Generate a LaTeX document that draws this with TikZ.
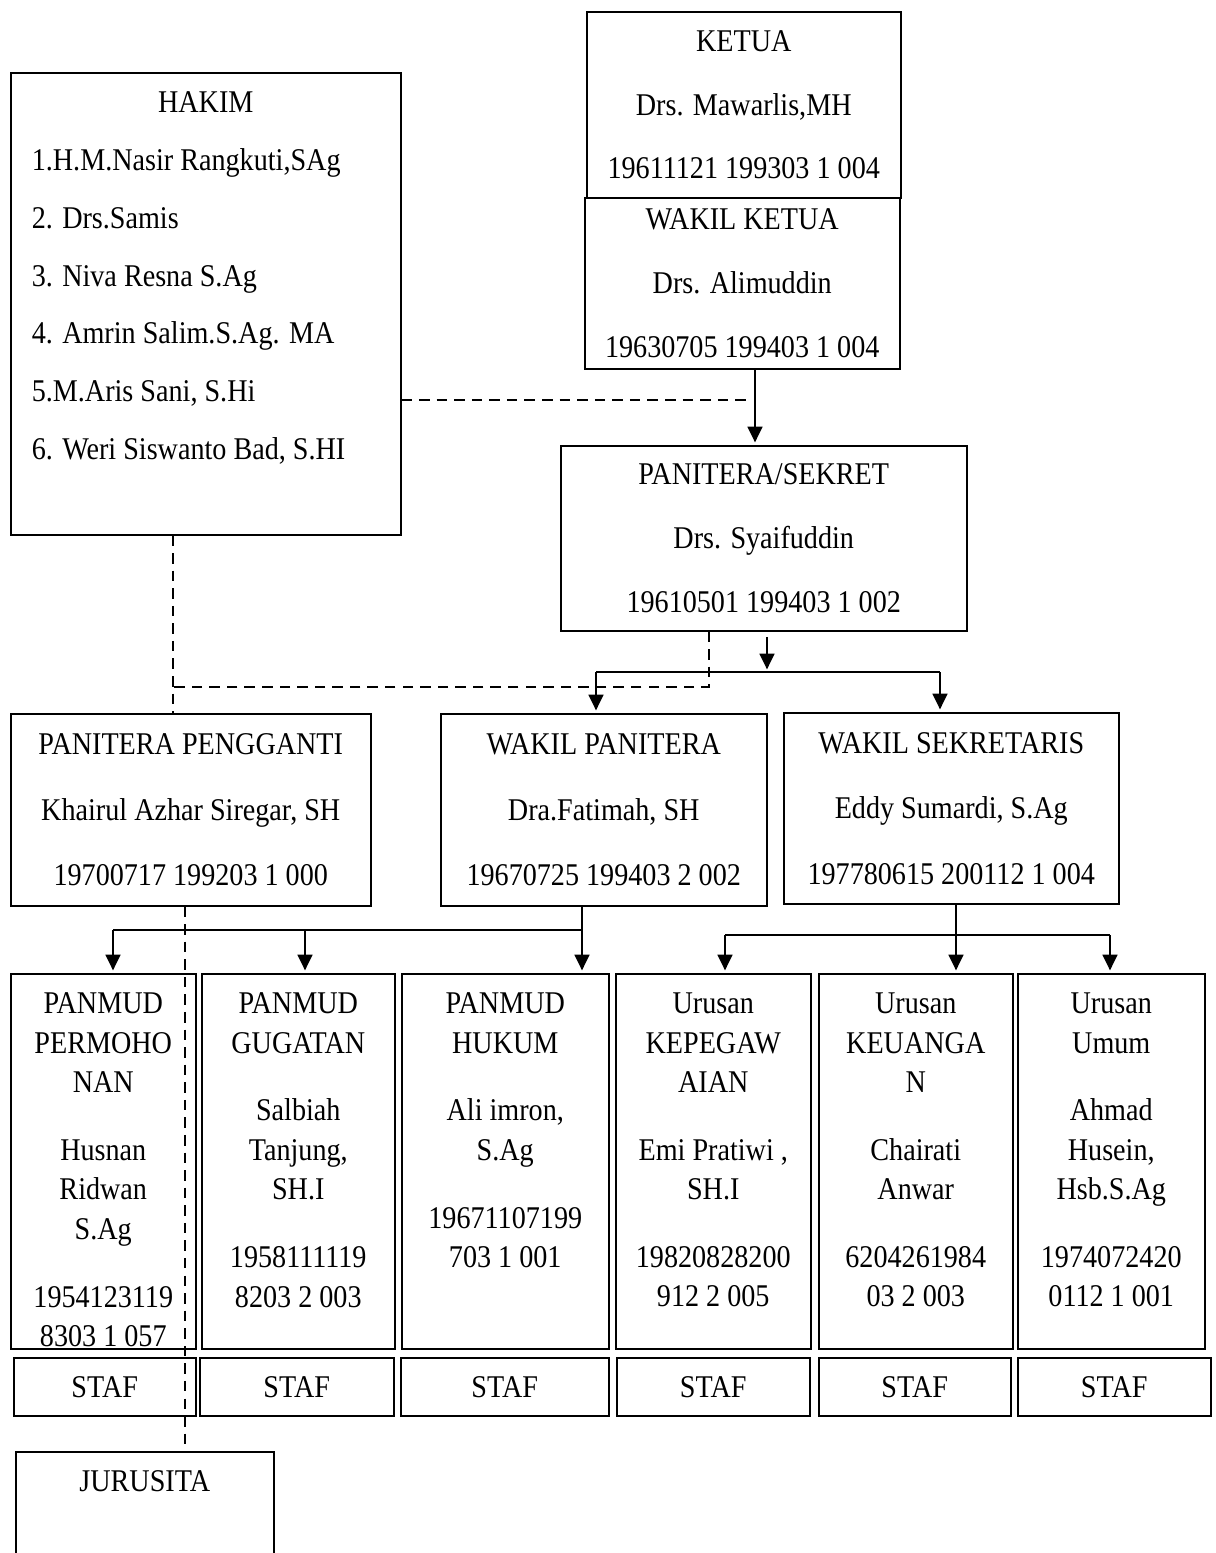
\documentclass[tikz,border=0pt]{standalone}
\usepackage{fontspec}
\setmainfont{Liberation Serif}[FakeStretch=0.89]
\usepackage{tikz}
\usetikzlibrary{arrows.meta, positioning, calc}
\newcommand{\toptext}[3]{\parbox[c][#2][t]{#1}{\vspace*{0.38cm}#3}}

\begin{document}
\begin{tikzpicture}[
    x=0.02cm, y=-0.02cm,
    box/.style={draw, line width=0.9pt, anchor=north west, inner sep=0pt, align=center,
                font=\fontsize{18}{36.3}\selectfont},
    unit/.style={draw, line width=0.9pt, anchor=north west, inner sep=0pt, minimum height=7.5cm,
                 font=\fontsize{18}{22.5}\selectfont},
    staf/.style={draw, line width=0.9pt, anchor=north west, inner sep=0pt, minimum height=1.16cm,
                 font=\fontsize{18}{21}\selectfont},
    link/.style={line width=1.1pt},
    arr/.style={line width=1.1pt, ->, shorten >=1.5pt},
    dashlink/.style={line width=1.1pt, dash pattern=on 6pt off 4pt},
    >={Triangle[width=8.5pt,length=9pt]}
]
\useasboundingbox (0,0) rectangle (1216,1553);
\clip (0,0) rectangle (1216,1553);

\node[box, minimum width=6.28cm, minimum height=3.72cm] (ketua) at (586,11)
    {KETUA\\ Drs. Mawarlis,MH\\ 19611121 199303 1 004};
\node[box, minimum width=6.3cm, minimum height=3.42cm] (wketua) at (584,197)
    {WAKIL KETUA\\ Drs. Alimuddin\\ 19630705 199403 1 004};

\node[box, align=none, minimum width=7.8cm, minimum height=9.24cm,
      font=\fontsize{18}{32.9}\selectfont] (hakim) at (10,72)
    {\toptext{6.96cm}{9.24cm}{\centerline{HAKIM}
     1.H.M.Nasir Rangkuti,SAg\\
     2. Drs.Samis\\
     3. Niva Resna S.Ag\\
     4. Amrin Salim.S.Ag. MA\\
     5.M.Aris Sani, S.Hi\\
     6. Weri Siswanto Bad, S.HI}};

\node[box, minimum width=8.12cm, minimum height=3.7cm] (panitera) at (560,445)
    {PANITERA/SEKRET\\ Drs. Syaifuddin\\ 19610501 199403 1 002};

\node[box, minimum width=7.2cm, minimum height=3.84cm,
      font=\fontsize{18}{37.3}\selectfont] (pengganti) at (10,713)
    {PANITERA PENGGANTI\\ Khairul Azhar Siregar, SH\\ 19700717 199203 1 000};
\node[box, minimum width=6.52cm, minimum height=3.84cm,
      font=\fontsize{18}{37.3}\selectfont] (wpanitera) at (440,713)
    {WAKIL PANITERA\\ Dra.Fatimah, SH\\ 19670725 199403 2 002};
\node[box, minimum width=6.7cm, minimum height=3.82cm,
      font=\fontsize{18}{37.3}\selectfont] (wsekretaris) at (783,712)
    {WAKIL SEKRETARIS\\ Eddy Sumardi, S.Ag\\ 197780615 200112 1 004};

\node[unit, minimum width=3.7cm] (permohonan) at (10,973)
    {\toptext{3.6cm}{7.5cm}{\centering PANMUD\\ PERMOHO\\ NAN\\[16pt]
     Husnan\\ Ridwan\\ S.Ag\\[16pt] 1954123119\\ 8303 1 057}};
\node[unit, minimum width=3.86cm] (gugatan) at (201,973)
    {\toptext{3.76cm}{7.5cm}{\centering PANMUD\\ GUGATAN\\[16pt]
     Salbiah\\ Tanjung,\\ SH.I\\[16pt] 1958111119\\ 8203 2 003}};
\node[unit, minimum width=4.14cm] (hukum) at (401,973)
    {\toptext{4.04cm}{7.5cm}{\centering PANMUD\\ HUKUM\\[16pt]
     Ali imron,\\ S.Ag\\[16pt] 19671107199\\ 703 1 001}};
\node[unit, minimum width=3.9cm] (pegawai) at (615,973)
    {\toptext{3.8cm}{7.5cm}{\centering Urusan\\ KEPEGAW\\ AIAN\\[16pt]
     Emi Pratiwi ,\\ SH.I\\[16pt] 19820828200\\ 912 2 005}};
\node[unit, minimum width=3.88cm] (keuangan) at (818,973)
    {\toptext{3.78cm}{7.5cm}{\centering Urusan\\ KEUANGA\\ N\\[16pt]
     Chairati\\ Anwar\\[16pt] 6204261984\\ 03 2 003}};
\node[unit, minimum width=3.74cm] (umum) at (1017,973)
    {\toptext{3.64cm}{7.5cm}{\centering Urusan\\ Umum\\[16pt]
     Ahmad\\ Husein,\\ Hsb.S.Ag\\[16pt] 1974072420\\ 0112 1 001}};

\node[staf, minimum width=3.64cm] (staf1) at (13,1357) {STAF};
\node[staf, minimum width=3.88cm] (staf2) at (199,1357) {STAF};
\node[staf, minimum width=4.16cm] (staf3) at (400,1357) {STAF};
\node[staf, minimum width=3.86cm] (staf4) at (616,1357) {STAF};
\node[staf, minimum width=3.84cm] (staf5) at (818,1357) {STAF};
\node[staf, minimum width=3.86cm] (staf6) at (1017,1357) {STAF};

\node[unit, minimum width=5.16cm, minimum height=2.6cm] (jurusita) at (15,1451)
    {\toptext{5cm}{2.6cm}{\centering JURUSITA}};

\coordinate (kjoin) at (755,400);
\coordinate (kdash) at (751,400);
\coordinate (pbus) at (767,672);
\coordinate (pl) at (596,672);
\coordinate (pr) at (940,672);
\coordinate (dcol) at (709,687);
\coordinate (djoin) at (173,687);
\coordinate (jcol) at (185,905);
\coordinate (hl) at (113,930);
\coordinate (hm) at (305,930);
\coordinate (hr) at (582,930);
\coordinate (ul) at (725,935);
\coordinate (um) at (956,935);
\coordinate (ur) at (1110,935);

\draw[dashlink] (hakim.east |- kjoin) -- (kdash);
\draw[arr] (wketua.south -| kjoin) -- (panitera.north -| kjoin);

\draw[arr, shorten <=3pt] (panitera.south -| pbus) -- (pbus);
\draw[link] (pl) -- (pr);
\draw[arr] (pl) -- (wpanitera.north -| pl);
\draw[arr] (pr) -- (wsekretaris.north -| pr);

\draw[dashlink] (panitera.south -| dcol) -- (dcol) -- (djoin);
\draw[dashlink] (hakim.south -| djoin) -- (pengganti.north -| djoin);
\draw[dashlink] (pengganti.south -| jcol) -- (jurusita.north -| jcol);

\draw[arr] (wpanitera.south -| hr) -- (hukum.north -| hr);
\draw[link] (hr) -- (hl);
\draw[arr] (hl) -- (permohonan.north -| hl);
\draw[arr] (hm) -- (gugatan.north -| hm);

\draw[arr] (wsekretaris.south -| um) -- (keuangan.north -| um);
\draw[link] (ul) -- (ur);
\draw[arr] (ul) -- (pegawai.north -| ul);
\draw[arr] (ur) -- (umum.north -| ur);
\end{tikzpicture}
\end{document}
